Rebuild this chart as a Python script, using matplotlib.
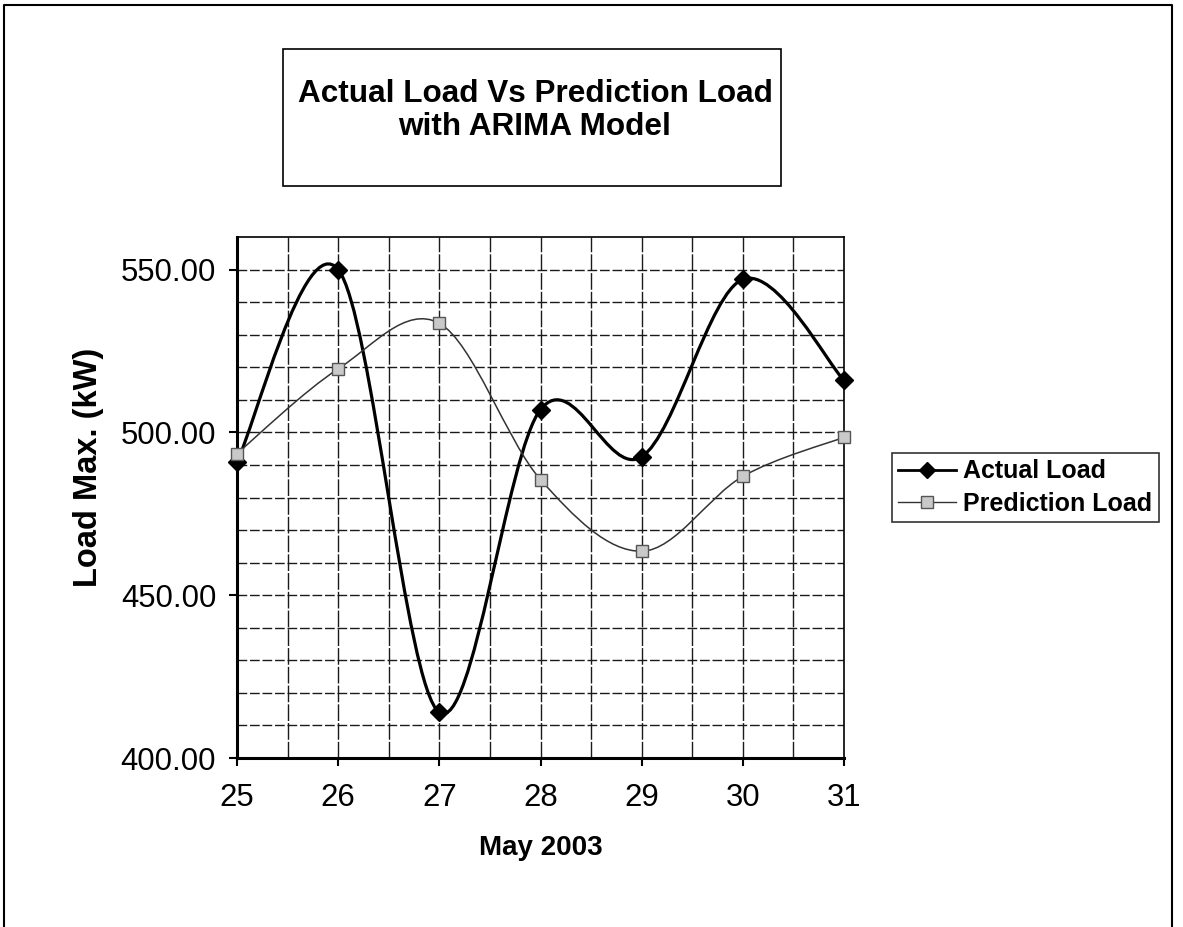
import numpy as np
import matplotlib
matplotlib.use("Agg")
import matplotlib.pyplot as plt
from matplotlib.path import Path
from matplotlib.patches import PathPatch, Rectangle
from matplotlib.lines import Line2D
from matplotlib.ticker import MultipleLocator, FormatStrFormatter

# ---- data ----
days = [25, 26, 27, 28, 29, 30, 31]
actual_load = [491.0, 550.0, 414.0, 507.0, 492.5, 547.0, 516.0]
prediction_load = [493.5, 519.5, 533.5, 485.5, 463.5, 486.5, 498.5]
title_lines = ["Actual Load Vs Prediction Load", "with ARIMA Model"]
x_label = "May 2003"
y_label = "Load Max. (kW)"
series_names = ["Actual Load", "Prediction Load"]

plt.rcParams['font.family'] = ['Liberation Sans', 'DejaVu Sans']

W, H = 1183, 927
fig = plt.figure(figsize=(W / 100, H / 100), dpi=100)
fig.patch.set_facecolor('white')

def fx(px):
    return px / W

def fy(py):
    return 1 - py / H

ax_l, ax_r, ax_t, ax_b = 237, 844, 237, 758
ax = fig.add_axes([fx(ax_l), fy(ax_b), fx(ax_r - ax_l), (ax_b - ax_t) / H])


def smooth_path(xs, ys):
    """Cubic Bezier (Catmull-Rom style) through the data points, like Excel smoothing."""
    pts = np.column_stack([xs, ys]).astype(float)
    n = len(pts)
    verts = [pts[0]]
    codes = [Path.MOVETO]
    for i in range(n - 1):
        p0 = pts[i - 1] if i > 0 else pts[i]
        p1 = pts[i]
        p2 = pts[i + 1]
        p3 = pts[i + 2] if i + 2 < n else pts[i + 1]
        c1 = p1 + (p2 - p0) / 6.0
        c2 = p2 - (p3 - p1) / 6.0
        verts += [c1, c2, p2]
        codes += [Path.CURVE4] * 3
    return Path(verts, codes)


# grid
grid_kw = dict(color='#1a1a1a', linewidth=1.0, zorder=1)
for yv in np.arange(410, 560, 10):
    ax.axhline(yv, linestyle=(0, (7, 2)), **grid_kw)
for xv in np.arange(25.5, 31, 0.5):
    ax.axvline(xv, linestyle=(0, (12, 1.5)), **grid_kw)

# series
ax.add_patch(PathPatch(smooth_path(days, actual_load), facecolor='none',
                       edgecolor='black', linewidth=2.3, zorder=3, clip_on=False))
ax.add_patch(PathPatch(smooth_path(days, prediction_load), facecolor='none',
                       edgecolor='#333333', linewidth=1.1, zorder=3, clip_on=False))
ax.plot(days, actual_load, linestyle='none', marker='D', markersize=9,
        color='black', zorder=5, clip_on=False)
ax.plot(days, prediction_load, linestyle='none', marker='s', markersize=9,
        markerfacecolor='#c9c9c9', markeredgecolor='#555555', markeredgewidth=1.0,
        zorder=5, clip_on=False)

ax.set_xlim(25, 31)
ax.set_ylim(400, 560)
ax.xaxis.set_major_locator(MultipleLocator(1))
ax.yaxis.set_major_locator(MultipleLocator(50))
ax.yaxis.set_major_formatter(FormatStrFormatter('%.2f'))
ax.tick_params(axis='both', direction='out', length=6, width=1.5, labelsize=22.4,
               colors='black')
ax.tick_params(axis='y', pad=9)
ax.tick_params(axis='x', pad=12)
for s in ['left', 'bottom']:
    ax.spines[s].set_linewidth(2.2)
for s in ['top', 'right']:
    ax.spines[s].set_linewidth(1.2)

ax.set_xlabel(x_label, fontsize=20, fontweight='bold', va='center')
ax.xaxis.set_label_coords(0.5, (ax_b - 848) / (ax_b - ax_t))
ax.set_ylabel(y_label, fontsize=23.5, fontweight='bold', va='center')
ax.yaxis.set_label_coords((88 - ax_l) / (ax_r - ax_l), (ax_b - 467) / (ax_b - ax_t))

# legend
handles = [
    Line2D([], [], color='black', linewidth=2.0, marker='D', markersize=8),
    Line2D([], [], color='#333333', linewidth=1.0, marker='s', markersize=8,
           markerfacecolor='#c9c9c9', markeredgecolor='#555555'),
]
leg = fig.legend(handles, series_names, loc='upper left',
                 bbox_to_anchor=(fx(892), fy(453)), bbox_transform=fig.transFigure,
                 frameon=True, fancybox=False, shadow=False, borderaxespad=0,
                 prop=dict(size=18, weight='bold'), handlelength=2.3,
                 handletextpad=0.3, borderpad=0.25, labelspacing=0.35)
leg.get_frame().set_edgecolor('black')
leg.get_frame().set_linewidth(1.2)

# title box
fig.add_artist(Rectangle((fx(283), fy(186)), fx(781) - fx(283), fy(49) - fy(186),
                         transform=fig.transFigure, facecolor='white',
                         edgecolor='black', linewidth=1.2))
fig.text(fx(535), fy(102), title_lines[0], ha='center', va='baseline',
         fontsize=22.7, fontweight='bold')
fig.text(fx(535), fy(135), title_lines[1], ha='center', va='baseline',
         fontsize=22.7, fontweight='bold')

# outer chart border
fig.add_artist(Line2D([fx(4), fx(4), fx(1172), fx(1172)],
                      [0, fy(5), fy(5), 0], transform=fig.transFigure,
                      color='black', linewidth=1.5))

fig.savefig('out.png', dpi=100)
